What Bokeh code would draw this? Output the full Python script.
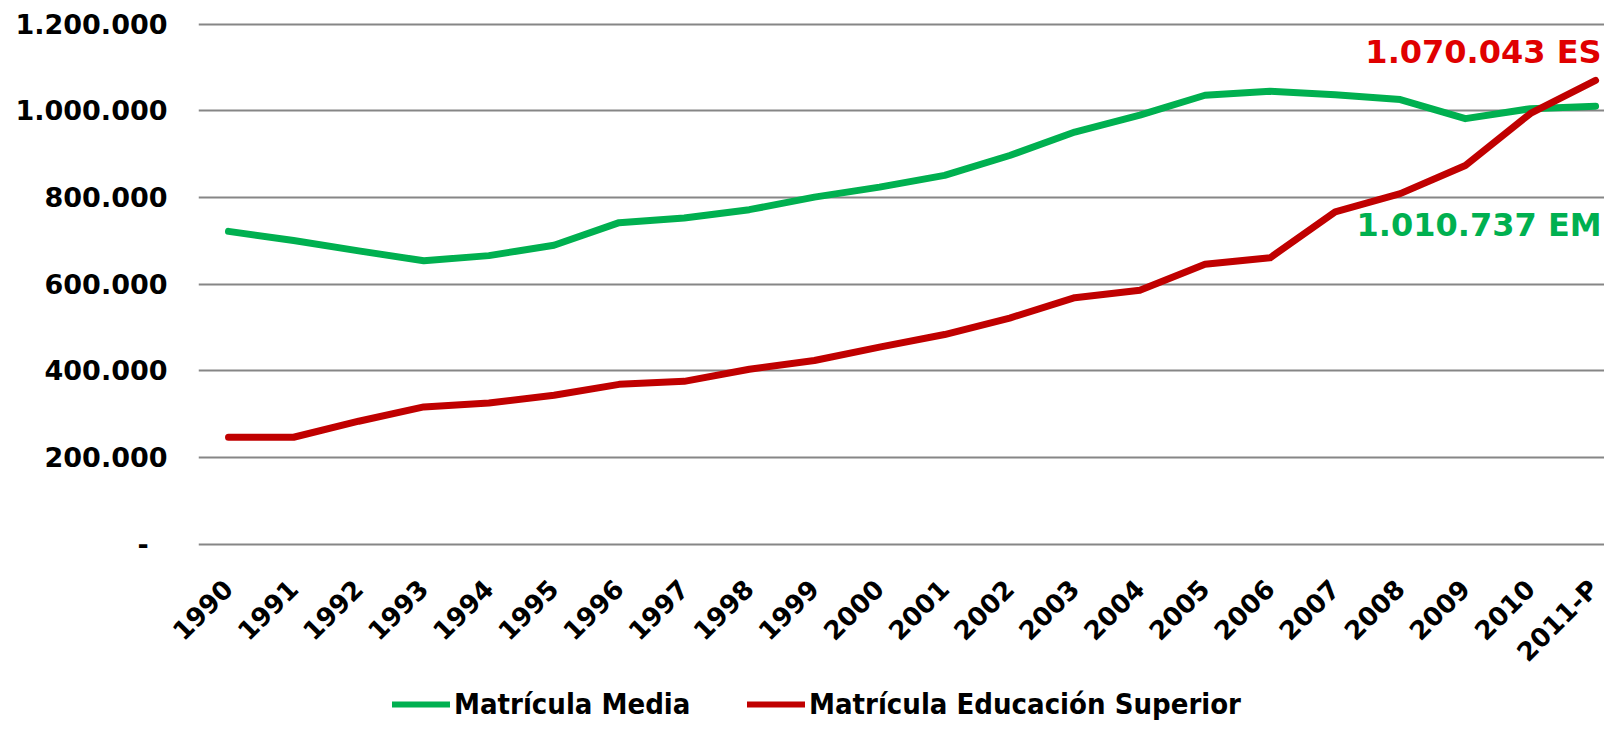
import math
from bokeh.plotting import figure
from bokeh.layouts import column
from bokeh.models import ColumnDataSource, FixedTicker, Legend, LegendItem
from bokeh.core.properties import value
from bokeh.embed import file_html
from bokeh.resources import INLINE

years = ["1990", "1991", "1992", "1993", "1994", "1995", "1996", "1997", "1998", "1999",
         "2000", "2001", "2002", "2003", "2004", "2005", "2006", "2007", "2008", "2009",
         "2010", "2011-P"]
media = [722000, 701000, 677000, 654000, 666000, 690000, 742000, 753000, 772000, 801000,
         824000, 851000, 897000, 951000, 990000, 1036000, 1045000, 1037000, 1026000, 982000,
         1005000, 1010737]
superior = [247000, 247000, 284000, 317000, 326000, 344000, 369000, 376000, 404000, 424000,
            455000, 484000, 522000, 569000, 586000, 646000, 661000, 767000, 809000, 874000,
            994000, 1070043]
y_ticks = [0, 200000, 400000, 600000, 800000, 1000000, 1200000]
y_tick_labels = ["-\u00a0\u00a0", "200.000", "400.000", "600.000", "800.000", "1.000.000", "1.200.000"]
label_media = "1.010.737 EM"
label_superior = "1.070.043 ES"
series_names = ["Matrícula Media", "Matrícula Educación Superior"]

GREEN = "#00B050"
RED = "#C00000"
RED_TEXT = "#E00000"
FONT = "DejaVu Sans"
LEGEND_FONT = "'DejaVu Sans Condensed', 'DejaVu Sans'"

idx = list(range(len(years)))
src = ColumnDataSource(dict(x=idx, media=media, superior=superior))

W = 1604
p = figure(width=W, height=685, output_backend="svg", toolbar_location=None,
           x_range=(-0.461, 21.137), y_range=(-5000, 1224527),
           min_border_left=198, min_border_right=0, min_border_top=13, min_border_bottom=139)
p.outline_line_color = None
p.background_fill_color = "white"
p.border_fill_color = "white"

p.line("x", "media", source=src, line_color=GREEN, line_width=7,
       line_cap="round", line_join="round")
p.line("x", "superior", source=src, line_color=RED, line_width=7,
       line_cap="round", line_join="round")

# grid
p.xgrid.grid_line_color = None
p.ygrid.grid_line_color = "#868686"
p.ygrid.grid_line_width = 2
p.ygrid.ticker = FixedTicker(ticks=y_ticks)

# y axis
p.yaxis.ticker = FixedTicker(ticks=y_ticks)
p.yaxis.major_label_overrides = {t: l for t, l in zip(y_ticks, y_tick_labels)}
p.yaxis.axis_line_color = None
p.yaxis.major_tick_line_color = None
p.yaxis.minor_tick_line_color = None
p.yaxis.major_tick_out = 0
p.yaxis.major_tick_in = 0
p.yaxis.major_label_standoff = 31
p.yaxis.major_label_text_font = FONT
p.yaxis.major_label_text_font_style = "bold"
p.yaxis.major_label_text_font_size = "27px"
p.yaxis.major_label_text_color = "black"

# x axis
p.xaxis.ticker = FixedTicker(ticks=idx)
p.xaxis.major_label_overrides = {i: y for i, y in zip(idx, years)}
p.xaxis.axis_line_color = None
p.xaxis.major_tick_line_color = None
p.xaxis.minor_tick_line_color = None
p.xaxis.major_tick_out = 0
p.xaxis.major_tick_in = 0
p.xaxis.major_label_orientation = math.pi / 4
p.xaxis.major_label_standoff = 38
p.xaxis.major_label_text_font = FONT
p.xaxis.major_label_text_font_style = "bold"
p.xaxis.major_label_text_font_size = "26px"
p.xaxis.major_label_text_color = "black"

# end labels
lab_src_sup = ColumnDataSource(dict(x=[idx[-1]], y=[superior[-1]], t=[label_superior]))
lab_src_med = ColumnDataSource(dict(x=[idx[-1]], y=[media[-1]], t=[label_media]))
p.text("x", "y", text="t", source=lab_src_sup, text_font=value(FONT), text_font_style="bold",
       text_font_size="32px", text_color=RED_TEXT, text_align="right",
       text_baseline="alphabetic", x_offset=6, y_offset=-28)
p.text("x", "y", text="t", source=lab_src_med, text_font=value(FONT), text_font_style="bold",
       text_font_size="32px", text_color=GREEN, text_align="right",
       text_baseline="alphabetic", x_offset=6, y_offset=119)

# legend strip (separate small figure, same series styling)
LH = 36
pl = figure(width=W, height=LH, output_backend="svg", toolbar_location=None,
            x_range=(0, W), y_range=(0, LH), x_axis_location=None, y_axis_location=None,
            min_border=0, min_border_left=0, min_border_right=0, min_border_top=0,
            min_border_bottom=0)
pl.outline_line_color = None
pl.xgrid.grid_line_color = None
pl.ygrid.grid_line_color = None
lg_media = pl.line("x", "media", source=src, line_color=GREEN, line_width=6, line_cap="round")
lg_sup = pl.line("x", "superior", source=src, line_color=RED, line_width=6, line_cap="round")


def make_legend(label, renderer, xloc):
    return Legend(items=[LegendItem(label=label, renderers=[renderer])],
                  location=(xloc, 0), orientation="horizontal",
                  glyph_width=58, glyph_height=20, label_standoff=4,
                  padding=0, margin=0, spacing=0,
                  border_line_color=None, background_fill_alpha=0,
                  label_text_font=LEGEND_FONT, label_text_font_style="bold",
                  label_text_font_size="29px", label_text_color="black")


# frames of the two figures are aligned (left edge at 198 px)
pl.add_layout(make_legend(series_names[0], lg_media, 194), "center")
pl.add_layout(make_legend(series_names[1], lg_sup, 549), "center")

layout = column(p, pl, spacing=0)
html = file_html(layout, INLINE)
open("out.html", "w").write(html)
